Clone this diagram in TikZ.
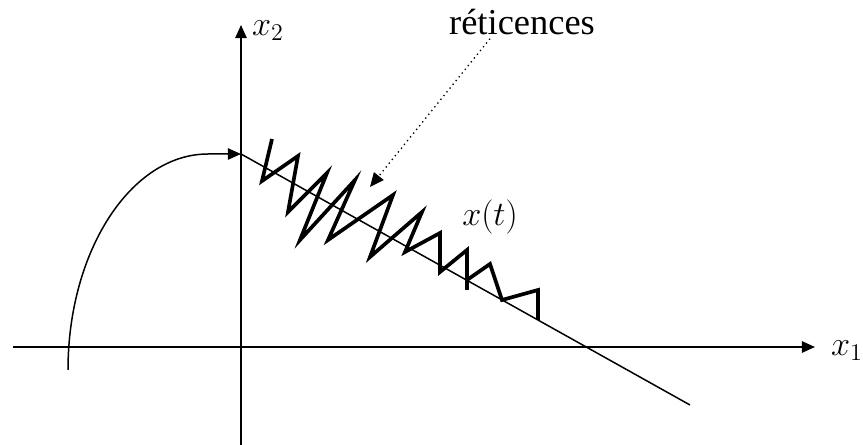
\documentclass[tikz,border=0pt]{standalone}
\usepackage{fix-cm}
\usepackage{fontspec}
\setmainfont{Liberation Serif}
\usetikzlibrary{arrows.meta,calc}

\begin{document}
\begin{tikzpicture}[
  x=0.02cm, y=-0.02cm,
  >={Triangle[length=7.5pt, width=6.5pt]},
  axis/.style={->, line width=1pt},
  traj/.style={line width=0.85pt},
  wiggle/.style={line width=2.1pt},
  mlbl/.style={font=\fontsize{19.5}{22}\selectfont, inner sep=0pt},
  note/.style={-{Triangle[length=8pt, width=7pt]}, dotted, line width=0.75pt},
]
\useasboundingbox (0,0) rectangle (863,445);

% ---- axes ----
\coordinate (xl) at (13,347);
\coordinate (xr) at (815,347);
\coordinate (yb) at (241,445);
\coordinate (yt) at (241,25);
\draw[axis] (xl) -- (xr);
\draw[axis] (yb) -- (yt);
\node[mlbl] (xone) at (847,351) {$x_1$};
\node[mlbl] (xtwo) at (268,31) {$x_2$};

% ---- trajectory ----
\coordinate (start) at (68,370);
\coordinate (entry) at (241,154);
\coordinate (tail) at (690,405);
\draw[traj, ->] (start) .. controls (68,251) and (131,154) .. (208,154) -- (entry);
\draw[traj] (entry) -- (tail);

% ---- chattering ----
\draw[wiggle] (272,139) -- (262,181) -- (298,156) -- (288,212) -- (327,173)
  -- (300,240) -- (355,180) -- (328,240) -- (393,195) -- (370,257)
  -- (422,212) -- (405,252) -- (440,233) -- (440,272) -- (467,250) -- (467,290)
  (467,280) -- (490,264) -- (502,300) -- (538,290) -- (538,320);
\node[mlbl] (xt) at (490,217) {$x(t)$};

% ---- label ----
\node[font=\huge, inner sep=0pt, anchor=base] (ret) at (522,35) {réticences};
\coordinate (ptr) at (370,187);
\draw[note] ($(ret.south)+(-32,3)$) -- (ptr);
\end{tikzpicture}
\end{document}
